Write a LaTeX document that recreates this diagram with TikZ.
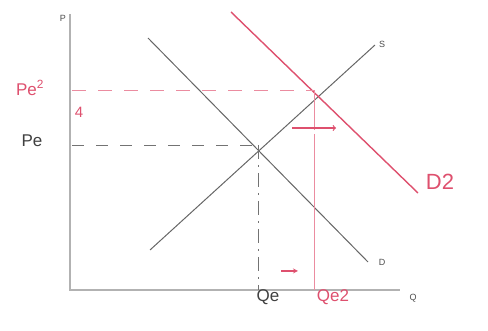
\documentclass[tikz,border=0pt]{standalone}
\usepackage{fontspec}
\setmainfont{Liberation Sans}
\definecolor{pen}{RGB}{222,80,110}
\definecolor{penlight}{RGB}{235,140,160}
\begin{document}
\begin{tikzpicture}[x=1pt,y=-1pt,
  ax/.style={draw=gray!60,line width=1.3pt},
  curve/.style={draw=black!60,line width=1pt},
  redcurve/.style={draw=pen,line width=1.4pt},
  guide/.style={draw=black!55,line width=0.9pt,dash pattern=on 12pt off 12pt},
  redguide/.style={draw=penlight,line width=0.9pt,dash pattern=on 14pt off 12pt},
  small/.style={font=\fontsize{9}{10}\selectfont,text=black!70,inner sep=1pt},
  hand/.style={font=\fontsize{17}{18}\selectfont,text=black!75,inner sep=1pt},
  redhand/.style={font=\fontsize{17}{18}\selectfont,text=pen,inner sep=1pt}]
\useasboundingbox (0,0) rectangle (488,331);
% axes
\coordinate (O) at (70,290);
\coordinate (Ytop) at (70,14);
\coordinate (Xend) at (400,290);
\draw[ax] (Ytop) -- (O) -- (Xend);
\node[small] (P) at (63,18) {P};
\node[small] (Q) at (413,298) {Q};
% curves
\coordinate (S1) at (150,250);
\coordinate (S2) at (375,45);
\coordinate (D1) at (148,38);
\coordinate (D2a) at (368,262);
\coordinate (N1) at (231,12);
\coordinate (N2) at (418,193);
\draw[curve] (S1) -- (S2);
\draw[curve] (D1) -- (D2a);
\draw[redcurve] (N1) -- (N2);
\node[small] (Slab) at (382,44) {S};
\node[small] (Dlab) at (382,262) {D};
\node[redhand,font=\fontsize{22}{24}\selectfont] (D2lab) at (440,182) {D2};
% equilibria
\coordinate (E1) at (258,145);
\coordinate (E2) at (314,90);
\coordinate (Pe) at (72,145);
\coordinate (Pe2) at (72,90);
\coordinate (Qe) at (258,290);
\coordinate (Qe2) at (314,290);
\draw[guide] (Pe) -- (E1);
\draw[guide,dash pattern=on 14pt off 6pt on 2pt off 6pt] (E1) -- (Qe);
\draw[redguide] (Pe2) -- (E2);
\draw[redguide,dash pattern=on 40pt off 4pt on 200pt off 0pt] (E2) -- (Qe2);
\node[hand] (PeL) at (32,141) {Pe};
\node[redhand] (Pe2L) at (30,88) {Pe\textsuperscript{2}};
\node[redhand,font=\fontsize{15}{16}\selectfont] (four) at (79,112) {4};
\node[hand] (QeL) at (268,297) {Qe};
\node[redhand] (Qe2L) at (333,297) {Qe2};
% shift arrows
\coordinate (A1) at (292,128);
\coordinate (A2) at (336,128);
\draw[redcurve,line width=1.2pt,->] (A1) -- (A2);
\coordinate (B1) at (281,271);
\coordinate (B2) at (298,271);
\draw[redcurve,line width=1.2pt,-stealth] (B1) -- (B2);
\end{tikzpicture}
\end{document}
